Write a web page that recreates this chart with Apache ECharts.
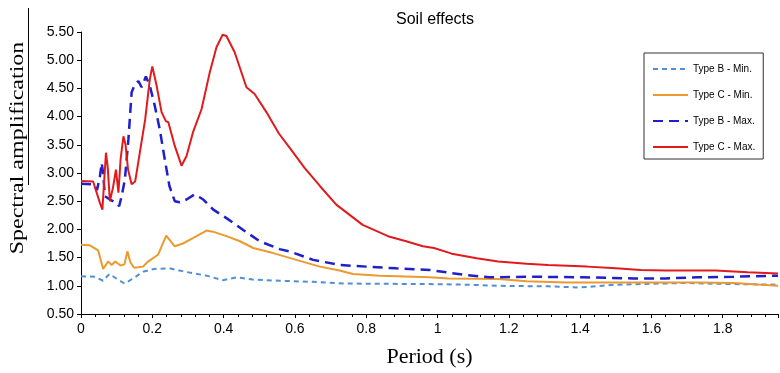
<!DOCTYPE html>
<html>
<head>
<meta charset="utf-8">
<script src="https://cdn.jsdelivr.net/npm/echarts@6/dist/echarts.min.js"></script>
<style>
  html, body { margin: 0; padding: 0; background: #fff; }
  #chart { width: 780px; height: 373px; }
</style>
</head>
<body>
<div id="chart"></div>
<script>
// Type B - Min. (light blue dashed)
const bMinT = [0, 0.038, 0.062, 0.08, 0.099, 0.122, 0.146, 0.174, 0.206, 0.248, 0.291, 0.352, 0.398, 0.436, 0.482, 0.557, 0.65, 0.745, 0.978, 1.08, 1.17, 1.31, 1.40, 1.50, 1.69, 1.83, 1.955];
const bMinV = [1.17, 1.16, 1.09, 1.21, 1.13, 1.04, 1.13, 1.25, 1.30, 1.31, 1.25, 1.18, 1.10, 1.15, 1.11, 1.09, 1.07, 1.04, 1.03, 1.02, 1.00, 0.99, 0.97, 1.02, 1.05, 1.03, 1.02];

// Type C - Min. (orange)
const cMinT = [0, 0.024, 0.048, 0.062, 0.076, 0.086, 0.096, 0.111, 0.122, 0.13, 0.139, 0.149, 0.174, 0.188, 0.216, 0.239, 0.263, 0.286, 0.315, 0.352, 0.37, 0.408, 0.446, 0.483, 0.539, 0.604, 0.67, 0.725, 0.763, 0.838, 0.978, 1.03, 1.17, 1.25, 1.36, 1.55, 1.73, 1.83, 1.955];
const cMinV = [1.73, 1.72, 1.63, 1.30, 1.43, 1.37, 1.43, 1.36, 1.38, 1.61, 1.41, 1.32, 1.34, 1.43, 1.55, 1.89, 1.70, 1.75, 1.85, 1.98, 1.96, 1.88, 1.79, 1.67, 1.58, 1.46, 1.34, 1.27, 1.21, 1.18, 1.15, 1.13, 1.12, 1.08, 1.06, 1.06, 1.06, 1.05, 1.00];

// Type B - Max. (dark blue dashed)
const bMaxT = [0, 0.034, 0.045, 0.053, 0.058, 0.062, 0.067, 0.081, 0.1, 0.107, 0.114, 0.123, 0.133, 0.142, 0.151, 0.161, 0.17, 0.182, 0.193, 0.207, 0.221, 0.235, 0.248, 0.263, 0.277, 0.296, 0.319, 0.343, 0.371, 0.408, 0.455, 0.501, 0.557, 0.585, 0.651, 0.725, 0.8, 0.884, 0.978, 1.08, 1.146, 1.27, 1.41, 1.55, 1.64, 1.73, 1.83, 1.955];
const bMaxV = [2.81, 2.80, 2.70, 2.94, 3.18, 3.00, 2.59, 2.53, 2.47, 2.41, 2.59, 2.88, 3.60, 4.43, 4.57, 4.63, 4.52, 4.71, 4.55, 4.19, 3.77, 3.24, 2.77, 2.50, 2.48, 2.53, 2.62, 2.53, 2.35, 2.20, 1.99, 1.79, 1.65, 1.61, 1.46, 1.37, 1.34, 1.31, 1.28, 1.19, 1.15, 1.16, 1.15, 1.13, 1.13, 1.15, 1.16, 1.18];

// Type C - Max. (red)
const cMaxT = [0, 0.034, 0.053, 0.06, 0.07, 0.075, 0.081, 0.09, 0.098, 0.105, 0.111, 0.119, 0.125, 0.132, 0.142, 0.152, 0.165, 0.18, 0.193, 0.2, 0.212, 0.226, 0.238, 0.245, 0.263, 0.282, 0.296, 0.314, 0.338, 0.361, 0.38, 0.397, 0.408, 0.431, 0.464, 0.487, 0.52, 0.555, 0.585, 0.627, 0.67, 0.716, 0.79, 0.861, 0.912, 0.959, 0.99, 1.04, 1.11, 1.17, 1.25, 1.31, 1.42, 1.50, 1.57, 1.64, 1.78, 1.87, 1.955];
const cMaxV = [2.86, 2.85, 2.47, 2.35, 3.36, 3.10, 2.50, 2.75, 3.06, 2.65, 3.24, 3.65, 3.50, 3.06, 2.80, 2.85, 3.36, 3.95, 4.66, 4.89, 4.55, 4.08, 3.92, 3.90, 3.48, 3.13, 3.30, 3.72, 4.13, 4.78, 5.23, 5.45, 5.43, 5.14, 4.52, 4.40, 4.08, 3.70, 3.45, 3.09, 2.77, 2.44, 2.08, 1.88, 1.79, 1.70, 1.67, 1.57, 1.49, 1.43, 1.39, 1.37, 1.34, 1.31, 1.28, 1.27, 1.27, 1.24, 1.22];

const seriesNames = ['Type B - Min.', 'Type C - Min.', 'Type B - Max.', 'Type C - Max.'];

const sans = 'Liberation Sans, Arial, sans-serif';
const serif = 'Liberation Serif, Times New Roman, serif';

function zip(t, v) {
    return t.map((x, i) => [x, v[i]]);
}

function lineSeries(name, t, v, color, width, dash) {
    return {
        name: name,
        type: 'line',
        data: zip(t, v),
        symbol: 'none',
        showSymbol: false,
        animation: false,
        lineStyle: { color: color, width: width, type: dash || 'solid' },
        itemStyle: { color: color }
    };
}

const chartDom = document.getElementById('chart');
const myChart = echarts.init(chartDom);

myChart.setOption({
    backgroundColor: '#fff',
    title: {
        text: 'Soil effects',
        left: 430,
        top: 7,
        textAlign: 'center',
        textStyle: { fontFamily: sans, fontSize: 16, fontWeight: 'normal', color: '#000' }
    },
    legend: {
        orient: 'vertical',
        left: 644,
        top: 53,
        padding: [11, 8, 7, 8],
        itemGap: 16,
        itemWidth: 35,
        itemHeight: 10,
        borderColor: '#333',
        borderWidth: 1,
        itemStyle: { opacity: 0 },
        data: seriesNames,
        textStyle: { fontFamily: sans, fontSize: 10, color: '#000' }
    },
    grid: {
        left: 81,
        right: 2,
        top: 32,
        bottom: 59,
        containLabel: false
    },
    xAxis: {
        type: 'value',
        min: 0,
        max: 1.955,
        interval: 0.2,
        name: 'Period (s)',
        nameLocation: 'middle',
        nameGap: 32,
        nameTextStyle: { fontFamily: serif, fontSize: 22, color: '#000' },
        axisLine: { lineStyle: { color: '#000', width: 1 } },
        axisTick: { show: true, inside: false, length: 4, lineStyle: { color: '#000' } },
        minorTick: { show: true, splitNumber: 5, length: 3, lineStyle: { color: '#000' } },
        splitLine: { show: false },
        axisLabel: {
            fontFamily: sans,
            fontSize: 14,
            color: '#000',
            margin: 8,
            showMaxLabel: false,
            formatter: (v) => String(+v.toFixed(1))
        }
    },
    yAxis: {
        type: 'value',
        min: 0.5,
        max: 5.5,
        interval: 0.5,
        axisLine: { show: true, lineStyle: { color: '#000', width: 1 } },
        axisTick: { show: true, inside: false, length: 4, lineStyle: { color: '#000' } },
        splitLine: { show: false },
        axisLabel: {
            fontFamily: sans,
            fontSize: 14,
            color: '#000',
            margin: 7,
            formatter: (v) => v.toFixed(2)
        }
    },
    graphic: [
        {
            type: 'text',
            x: 18,
            y: 148,
            rotation: Math.PI / 2,
            scaleY: 0.8,
            style: {
                text: 'Spectral amplification',
                fontFamily: serif,
                fontSize: 24,
                fill: '#000',
                textAlign: 'center',
                textVerticalAlign: 'middle'
            }
        },
        {
            type: 'line',
            shape: { x1: 28.5, y1: 8, x2: 28.5, y2: 185 },
            style: { stroke: '#000', lineWidth: 1 }
        }
    ],
    series: [
        lineSeries(seriesNames[0], bMinT, bMinV, '#4f8fd6', 2, [5, 4]),
        lineSeries(seriesNames[1], cMinT, cMinV, '#eb9a30', 2),
        lineSeries(seriesNames[2], bMaxT, bMaxV, '#1f1fcc', 2.5, [10, 6]),
        lineSeries(seriesNames[3], cMaxT, cMaxV, '#e01b1e', 2)
    ]
});

window.onresize = function () {
    myChart.resize();
}
</script>
</body>
</html>
